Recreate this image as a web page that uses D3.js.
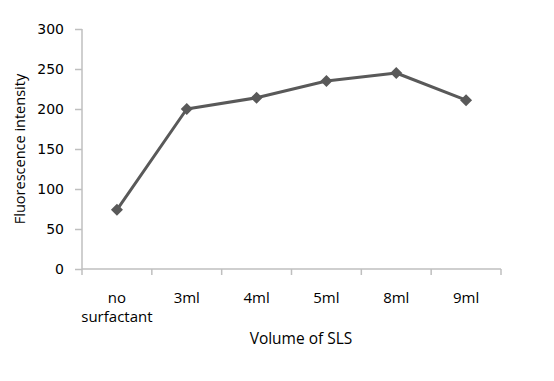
<!DOCTYPE html>
<html>
<head>
<meta charset="utf-8">
<script src="https://cdn.jsdelivr.net/npm/d3@7"></script>
<style>
  body { margin: 0; background: #fff; }
</style>
</head>
<body>
<svg id="chart" width="554" height="381"></svg>
<script>
const categories = ['no surfactant', '3ml', '4ml', '5ml', '8ml', '9ml'];
const intensity = [74, 200, 214, 235, 245, 211];
const yTicks = [0, 50, 100, 150, 200, 250, 300];

const margin = { left: 82, right: 53, top: 29, bottom: 112 };
const width = 554, height = 381;

const svg = d3.select('#chart');

const x = d3.scaleBand()
    .domain(categories)
    .range([margin.left, width - margin.right]);

const y = d3.scaleLinear()
    .domain([0, 300])
    .range([height - margin.bottom, margin.top]);

const axisColor = '#bfbfbf';
const labelFont = 'Open Sans, Lato, sans-serif';

// y axis
const yAxis = svg.append('g')
    .attr('transform', `translate(${margin.left},0)`)
    .call(d3.axisLeft(y).tickValues(yTicks).tickSize(7).tickPadding(11));
yAxis.attr('font-size', null).attr('font-family', null);
yAxis.select('.domain').attr('stroke', axisColor).attr('stroke-width', 1.5)
    .attr('d', `M0,${y(300)}V${y(0)}`);
yAxis.selectAll('.tick line').attr('stroke', axisColor).attr('stroke-width', 1.5);
yAxis.selectAll('.tick text')
    .style('font-family', 'DejaVu Sans, sans-serif')
    .style('font-size', '14px')
    .attr('fill', '#000');

// x axis
const xAxis = svg.append('g')
    .attr('transform', `translate(0,${y(0)})`)
    .call(d3.axisBottom(x).tickSize(0).tickFormat(''));
xAxis.select('.domain').attr('stroke', axisColor).attr('stroke-width', 1.5)
    .attr('d', `M${margin.left},0H${width - margin.right}`);
xAxis.selectAll('.tick').remove();

// category boundary ticks
const bounds = categories.map(c => x(c)).concat([x(categories[categories.length - 1]) + x.bandwidth()]);
svg.append('g')
    .selectAll('line')
    .data(bounds)
    .enter()
    .append('line')
    .attr('x1', d => d)
    .attr('x2', d => d)
    .attr('y1', y(0))
    .attr('y2', y(0) + 6)
    .attr('stroke', axisColor)
    .attr('stroke-width', 1.5);

// category labels
const labels = svg.append('g')
    .style('font-family', labelFont)
    .style('font-size', '15px')
    .attr('fill', '#000')
    .attr('text-anchor', 'middle');
categories.forEach(c => {
    const cx = x(c) + x.bandwidth() / 2;
    const t = labels.append('text').attr('x', cx).attr('y', y(0) + 34);
    const words = c.split(' ');
    words.forEach((w, i) => {
        t.append('tspan').attr('x', cx).attr('dy', i === 0 ? 0 : 19).text(w);
    });
});

// line
const line = d3.line()
    .x((d, i) => x(categories[i]) + x.bandwidth() / 2)
    .y(d => y(d));

svg.append('path')
    .datum(intensity)
    .attr('d', line)
    .attr('fill', 'none')
    .attr('stroke', '#595959')
    .attr('stroke-width', 3)
    .attr('stroke-linejoin', 'round');

svg.append('g')
    .selectAll('path')
    .data(intensity)
    .enter()
    .append('path')
    .attr('d', d3.symbol().type(d3.symbolSquare).size(72))
    .attr('transform', (d, i) => `translate(${x(categories[i]) + x.bandwidth() / 2},${y(d)}) rotate(45)`)
    .attr('fill', '#595959');

// axis titles
svg.append('text')
    .attr('x', 301)
    .attr('y', 344)
    .attr('text-anchor', 'middle')
    .style('font-family', labelFont)
    .style('font-size', '15.5px')
    .text('Volume of SLS');

svg.append('text')
    .attr('transform', `translate(25,${(y(0) + y(300)) / 2}) rotate(-90)`)
    .attr('text-anchor', 'middle')
    .style('font-family', labelFont)
    .style('font-size', '14.5px')
    .text('Fluorescence intensity');
</script>
</body>
</html>
